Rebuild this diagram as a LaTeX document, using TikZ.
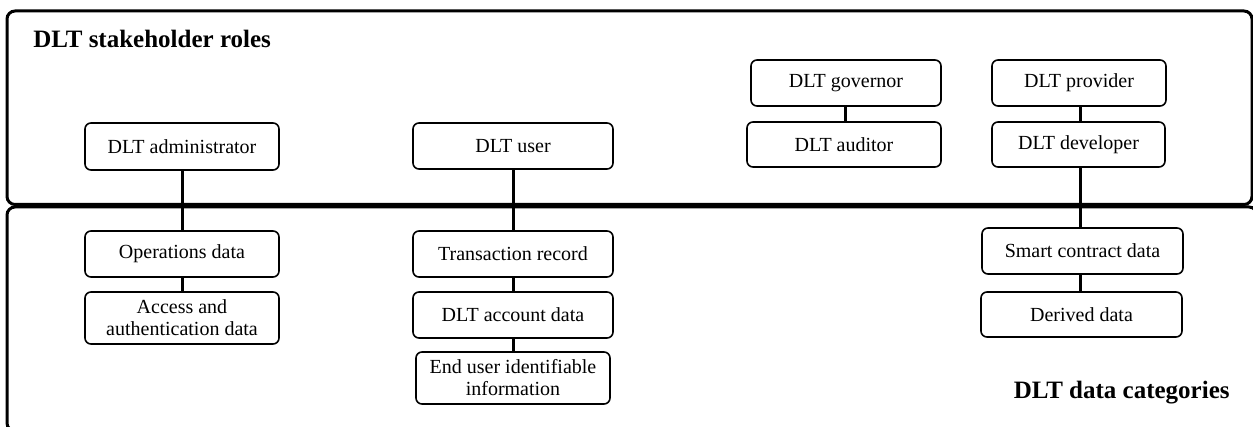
\documentclass[tikz,border=0pt]{standalone}
\usepackage{fontspec}
\setmainfont{Liberation Serif}
\begin{document}
\begin{tikzpicture}[x=0.5pt,y=-0.5pt,
  rbox/.style={draw, line width=0.8pt, rounded corners=3pt, align=center,
    font=\fontsize{10}{11}\selectfont, inner sep=0pt},
  conn/.style={line width=1.5pt},
  frame/.style={line width=1.5pt, rounded corners=4pt},
  title/.style={font=\bfseries\fontsize{12.5}{15}\selectfont, inner sep=0pt}]
\useasboundingbox (0,0) rectangle (1253,427);
% frames
\draw[frame] (7,11) rectangle (1252,204.5);
\draw[frame] (7,207) rectangle (1257,431);
\node[title, anchor=base west] (roles) at (33,48) {DLT stakeholder roles};
\node[title, anchor=base east] (cats) at (1230,398) {DLT data categories};
% column 1
\node[rbox, minimum width=97pt, minimum height=23.5pt] (adm) at (182,146.5) {DLT administrator};
\node[rbox, minimum width=97pt, minimum height=23pt] (ops) at (182,254) {Operations data};
\node[rbox, minimum width=97pt, minimum height=26pt] (acc) at (182,318) {Access and\\authentication data};
% column 2
\node[rbox, minimum width=100pt, minimum height=23pt] (user) at (513,146) {DLT user};
\node[rbox, minimum width=100pt, minimum height=23pt] (trx) at (513,254) {Transaction record};
\node[rbox, minimum width=100pt, minimum height=23pt] (acct) at (513,315) {DLT account data};
\node[rbox, minimum width=97pt, minimum height=26pt] (end) at (513,378) {End user identifiable\\information};
% column 3
\node[rbox, minimum width=95pt, minimum height=23pt] (gov) at (846,83) {DLT governor};
\node[rbox, minimum width=97pt, minimum height=22.5pt] (aud) at (844,144.5) {DLT auditor};
% column 4
\node[rbox, minimum width=87pt, minimum height=23pt] (prov) at (1079,83) {DLT provider};
\node[rbox, minimum width=86.5pt, minimum height=22.5pt] (dev) at (1078.5,144.5) {DLT developer};
\node[rbox, minimum width=100.5pt, minimum height=23pt] (sc) at (1082.5,251) {Smart contract data};
\node[rbox, minimum width=100.5pt, minimum height=22.5pt] (der) at (1081.5,314.5) {Derived data};
% connectors
\draw[conn] (adm.south) -- (adm.south |- ops.north);
\draw[conn] (ops.south) -- (ops.south |- acc.north);
\draw[conn] (user.south) -- (user.south |- trx.north);
\draw[conn] (trx.south) -- (trx.south |- acct.north);
\draw[conn] (acct.south) -- (acct.south |- end.north);
\draw[conn] (gov.south) ++(-1,0) coordinate (g1) (g1) -- (g1 |- aud.north);
\draw[conn] (prov.south) ++(1,0) coordinate (p1) (p1) -- (p1 |- dev.north);
\draw[conn] (p1 |- dev.south) coordinate (d1) (d1) -- (d1 |- sc.north);
\draw[conn] (p1 |- sc.south) coordinate (s1) (s1) -- (s1 |- der.north);
\end{tikzpicture}
\end{document}
